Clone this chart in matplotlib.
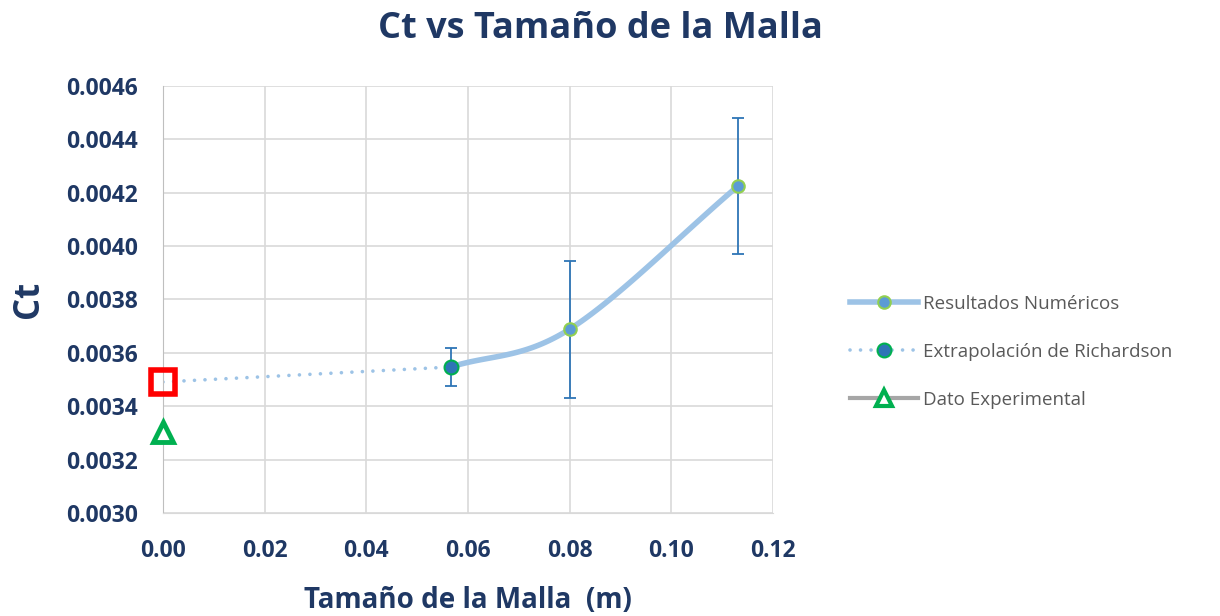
import matplotlib.pyplot as plt
import numpy as np
from matplotlib.lines import Line2D

# Data
malla = [0.0566, 0.0800, 0.1131]
ct_num = [0.003547, 0.003689, 0.004225]
err_num = [0.000070, 0.000257, 0.000255]

rich_x = [0.0, 0.0566]
rich_y = [0.003491, 0.003547]

exp_x = [0.0]
exp_y = [0.003303]

navy = '#1F3864'
plt.rcParams['font.family'] = ['Open Sans', 'DejaVu Sans']


def smooth(x, y, n=60):
    # Catmull-Rom curve through the points, like Excel's smoothed line
    x = np.asarray(x); y = np.asarray(y)
    px = np.concatenate([[2 * x[0] - x[1]], x, [2 * x[-1] - x[-2]]])
    py = np.concatenate([[2 * y[0] - y[1]], y, [2 * y[-1] - y[-2]]])
    xs, ys = [], []
    t = np.linspace(0, 1, n)
    for i in range(1, len(px) - 2):
        for p, out in ((px, xs), (py, ys)):
            p0, p1, p2, p3 = p[i - 1], p[i], p[i + 1], p[i + 2]
            out.extend(0.5 * (2 * p1 + (-p0 + p2) * t
                              + (2 * p0 - 5 * p1 + 4 * p2 - p3) * t ** 2
                              + (-p0 + 3 * p1 - 3 * p2 + p3) * t ** 3))
    return xs, ys


fig = plt.figure(figsize=(12.2, 6.16), dpi=100)
ax = fig.add_axes([0.1336, 0.1672, 0.5, 0.6932])

rich_style = dict(linestyle=(0, (0.01, 2.9)), color='#9DC3E6', lw=2.6,
                  dash_capstyle='round')

# Richardson dotted line
ax.plot(rich_x, rich_y, zorder=2, **rich_style)

# Numerical results, smoothed
sx, sy = smooth(malla, ct_num)
ax.plot(sx, sy, color='#9DC3E6', lw=4, solid_capstyle='round', zorder=3)
ax.errorbar(malla, ct_num, yerr=err_num, fmt='none', ecolor='#2E75B6',
            elinewidth=1.3, capsize=4.5, capthick=1.3, zorder=4)
ax.plot(malla, ct_num, 'o', ms=9, mfc='#5B9BD5', mec='#92D050', mew=1.5, zorder=5)
ax.plot(rich_x[1:], rich_y[1:], 'o', ms=10, mfc='#2E75B6', mec='#00B050',
        mew=1.5, zorder=6)

# Extrapolated value and experiment
ax.plot(rich_x[:1], rich_y[:1], 's', ms=17, mfc='none', mec='#FF0000', mew=4,
        zorder=7, clip_on=False)
ax.plot(exp_x, exp_y, '^', ms=14, mfc='white', mec='#00B050', mew=3.5,
        zorder=7, clip_on=False)

ax.set_xlim(0, 0.12)
ax.set_ylim(0.0030, 0.0046)
ax.set_xticks(np.arange(0, 0.121, 0.02))
ax.set_yticks(np.arange(0.0030, 0.00461, 0.0002))
ax.xaxis.set_major_formatter(plt.FormatStrFormatter('%.2f'))
ax.yaxis.set_major_formatter(plt.FormatStrFormatter('%.4f'))
ax.grid(True, color='#D9D9D9', lw=1.2)
ax.set_axisbelow(True)
for s in ax.spines.values():
    s.set_visible(False)
ax.spines['left'].set_visible(True)
ax.spines['left'].set_color('#BFBFBF')
ax.spines['bottom'].set_visible(True)
ax.spines['bottom'].set_color('#D9D9D9')
ax.tick_params(length=0, labelsize=16.5, labelcolor=navy)
ax.tick_params(axis='y', pad=18)
ax.tick_params(axis='x', pad=19)
for lab in ax.get_xticklabels() + ax.get_yticklabels():
    lab.set_fontweight('bold')

ax.set_xlabel('Tamaño de la Malla  (m)', fontsize=20, fontweight='bold',
              color=navy, labelpad=16)
ax.set_ylabel('Ct', fontsize=25, fontweight='bold', color=navy, labelpad=14)
fig.suptitle('Ct vs Tamaño de la Malla', x=0.492, y=0.982, fontsize=26,
             fontweight='bold', color=navy)

handles = [
    Line2D([], [], color='#9DC3E6', lw=4, marker='o', ms=9, mfc='#5B9BD5',
           mec='#92D050', mew=1.5),
    Line2D([], [], marker='o', ms=10, mfc='#2E75B6', mec='#00B050', mew=1.5,
           **rich_style),
    Line2D([], [], color='#A6A6A6', lw=3, marker='^', ms=11, mfc='white',
           mec='#00B050', mew=3),
]
labels = ['Resultados Numéricos', 'Extrapolación de Richardson', 'Dato Experimental']
fig.legend(handles, labels, loc='center left', bbox_to_anchor=(0.683, 0.4286),
           frameon=False, fontsize=13.5, labelcolor='#595959', handlelength=3.6,
           handletextpad=0.3, labelspacing=1.6)

fig.savefig('out.png', dpi=100)
